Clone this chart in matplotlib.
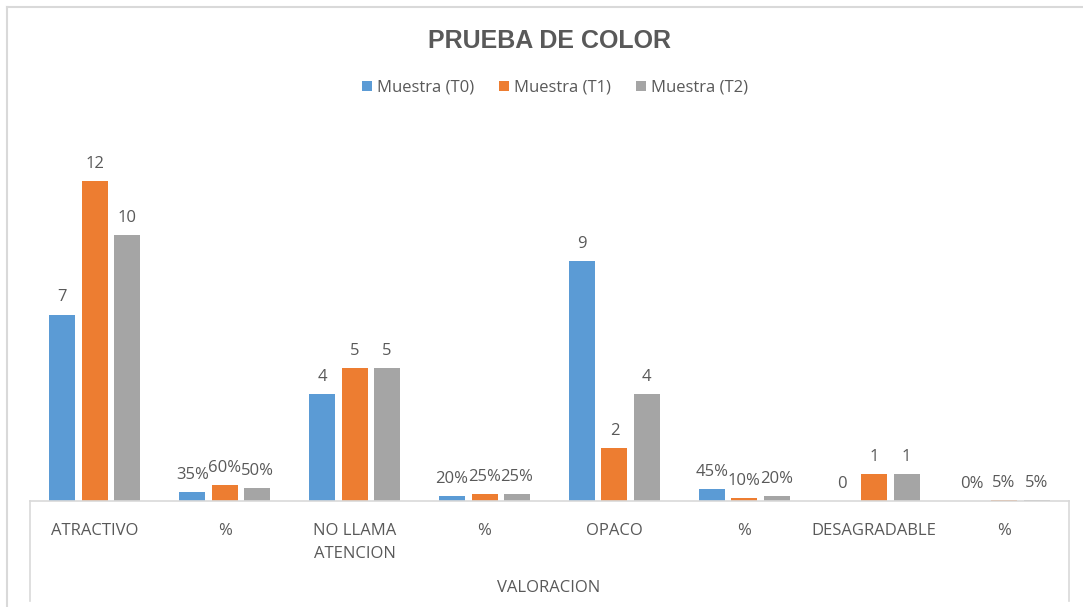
import matplotlib
matplotlib.use("Agg")
import matplotlib.pyplot as plt
import numpy as np
from matplotlib.patches import Patch
from matplotlib.lines import Line2D

categories = ["ATRACTIVO", "%", "NO LLAMA\nATENCION", "%", "OPACO", "%", "DESAGRADABLE", "%"]
series_names = ["Muestra (T0)", "Muestra (T1)", "Muestra (T2)"]
t0 = [7, 0.35, 4, 0.20, 9, 0.45, 0, 0.00]
t1 = [12, 0.60, 5, 0.25, 2, 0.10, 1, 0.05]
t2 = [10, 0.50, 5, 0.25, 4, 0.20, 1, 0.05]
colors = ["#5B9BD5", "#ED7D31", "#A5A5A5"]

text_col = "#595959"
line_col = "#D9D9D9"
font = "Open Sans"

fig = plt.figure(figsize=(10.83, 6.07), dpi=100)
ax = fig.add_axes([30 / 1083, 106 / 607, 1039 / 1083, 373 / 607])

x = np.arange(len(categories))
width = 0.2
offsets = [-0.25, 0, 0.25]
for vals, off, col in zip([t0, t1, t2], offsets, colors):
    ax.bar(x + off, vals, width, color=col, zorder=2)
    for xi, v, cat in zip(x, vals, categories):
        if cat == "%":
            lab = "%d%%" % round(v * 100)
        else:
            lab = "%d" % v
        ax.annotate(lab, (xi + off, v), xytext=(0, 17), textcoords="offset pixels",
                    ha="center", va="center", fontsize=12, color=text_col, family=font)

ax.set_xlim(-0.5, len(categories) - 0.5)
ax.set_ylim(0, 14)
ax.set_yticks([])
ax.set_xticks(x)
ax.set_xticklabels(categories, fontsize=12, color=text_col, family=font, linespacing=1.55,
                   va="top")
ax.tick_params(axis="x", length=0, pad=16)
for s in ["top", "left", "right"]:
    ax.spines[s].set_visible(False)
ax.spines["bottom"].set_color(line_col)
ax.spines["bottom"].set_linewidth(1.2)

# group lines and outer axis title
depth = 100 / 373
for xe in [0, 1]:
    ax.add_line(Line2D([xe, xe], [0, -depth], transform=ax.transAxes, color=line_col,
                       lw=1.2, clip_on=False))
fig.text(549 / 1083, 1 - 588 / 607, "VALORACION", ha="center", va="center",
         fontsize=12, color=text_col, family=font)

# title and legend
fig.text(549 / 1083, 1 - 41 / 607, "PRUEBA DE COLOR", ha="center", va="center",
         fontsize=18, fontweight="bold", color=text_col, family="Liberation Sans")
handles = [Patch(facecolor=c, edgecolor="none") for c in colors]
leg = fig.legend(handles, series_names, loc="center", bbox_to_anchor=(555 / 1083, 1 - 88 / 607),
                 ncol=3, frameon=False, handlelength=0.6, handleheight=0.6,
                 handletextpad=0.3, columnspacing=1.5, prop={"family": font, "size": 12})
for t in leg.get_texts():
    t.set_color(text_col)

# chart border (left and top edges visible)
fig.add_artist(Line2D([7 / 1083, 7 / 1083], [0, 1 - 7 / 607], transform=fig.transFigure,
                      color=line_col, lw=1.5))
fig.add_artist(Line2D([7 / 1083, 1], [1 - 7 / 607, 1 - 7 / 607], transform=fig.transFigure,
                      color=line_col, lw=1.5))

fig.savefig("out.png", dpi=100)
